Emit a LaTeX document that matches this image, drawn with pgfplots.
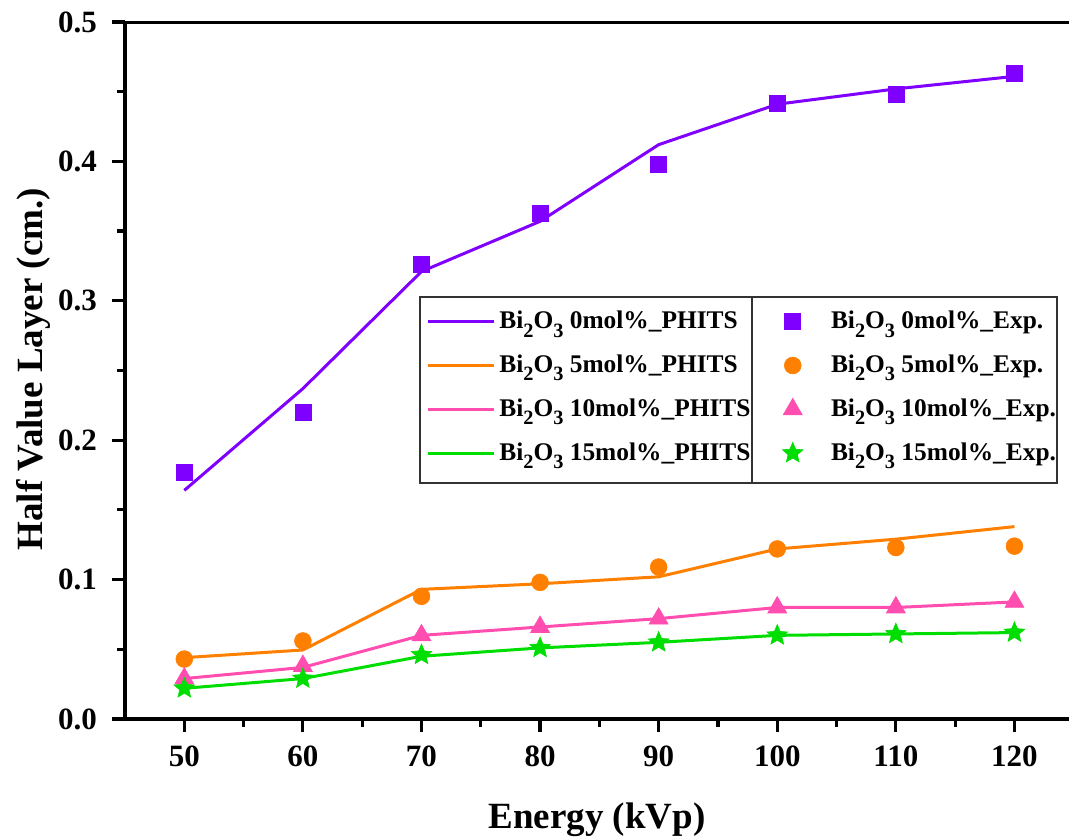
\documentclass[border=0pt]{standalone}
\usepackage{fontspec}
\setmainfont{Liberation Serif}
\usepackage{pgfplots}
\pgfplotsset{compat=1.18}
\definecolor{cpur}{HTML}{8000FF}
\definecolor{cora}{HTML}{FF8000}
\definecolor{cpink}{HTML}{FF4DB0}
\definecolor{cgreen}{HTML}{00DD00}
\newcommand\sbs[1]{\raisebox{-0.32em}{\scalebox{0.8}{#1}}}
\newcommand\bio{Bi\sbs{2}O\sbs{3}}
\pgfdeclareplotmark{fstar}{%
  \pgfpathmoveto{\pgfpointpolar{90}{\pgfplotmarksize}}%
  \pgfpathlineto{\pgfpointpolar{126}{0.45\pgfplotmarksize}}%
  \pgfpathlineto{\pgfpointpolar{162}{\pgfplotmarksize}}%
  \pgfpathlineto{\pgfpointpolar{198}{0.45\pgfplotmarksize}}%
  \pgfpathlineto{\pgfpointpolar{234}{\pgfplotmarksize}}%
  \pgfpathlineto{\pgfpointpolar{270}{0.45\pgfplotmarksize}}%
  \pgfpathlineto{\pgfpointpolar{306}{\pgfplotmarksize}}%
  \pgfpathlineto{\pgfpointpolar{342}{0.45\pgfplotmarksize}}%
  \pgfpathlineto{\pgfpointpolar{18}{\pgfplotmarksize}}%
  \pgfpathlineto{\pgfpointpolar{54}{0.45\pgfplotmarksize}}%
  \pgfpathclose
  \pgfusepathqfillstroke}
\begin{document}
\begin{tikzpicture}
\begin{axis}[
  name=ax,
  scale only axis, width=472pt, height=348.5pt,
  xmin=45, xmax=124.6, ymin=0, ymax=0.5,
  axis x line*=bottom, axis y line*=left,
  axis line style={line width=1.6pt},
  xtick={50,60,70,80,90,100,110,120},
  ytick={0,0.1,0.2,0.3,0.4,0.5},
  minor x tick num=1, minor y tick num=1,
  tick align=outside,
  major tick length=6.5pt, minor tick length=4pt,
  every tick/.style={black, line width=1.6pt},
  /pgf/number format/assume math mode=true,
  yticklabel style={/pgf/number format/fixed, /pgf/number format/fixed zerofill, /pgf/number format/precision=1, xshift=-4pt},
  xticklabel style={yshift=-3.5pt},
  ticklabel style={font=\fontsize{15.5}{18}\selectfont\bfseries},
  xlabel={Energy (kVp)},
  ylabel={Half Value Layer (cm.)},
  xlabel style={font=\fontsize{18.5}{22}\selectfont\bfseries, at={(rel axis cs:0.5,0)}, anchor=base, yshift=-55pt},
  ylabel style={font=\fontsize{18.5}{22}\selectfont\bfseries, at={(rel axis cs:-0.0879,0.502)}, anchor=base, rotate=0},
  legend columns=2,
  legend cell align=left,
  legend style={draw=none, fill=none, at={(rel axis cs:0.3125,0.6055)}, anchor=north west, yshift=-2pt,
    font=\fontsize{12.7}{15}\selectfont\bfseries, row sep=7.6pt, inner sep=3pt,
    /tikz/column 2/.style={column sep=14pt}, /tikz/column 3/.style={column sep=12pt}},
  legend image code/.code={\draw[mark repeat=2, mark phase=2, #1] plot coordinates {(0cm,0cm) (0.58cm,0cm) (1.16cm,0cm)};},
]
\draw[line width=0.8pt, black!80, fill=white] (rel axis cs:0.3125,0.6055) rectangle (rel axis cs:0.6642,0.3386);
\draw[line width=0.8pt, black!80, fill=white] (rel axis cs:0.6642,0.6055) rectangle (rel axis cs:0.987,0.3386);

\addplot[cpur, line width=1.5pt, no marks] coordinates {(50,0.164)(60,0.237)(70,0.321)(80,0.357)(90,0.412)(100,0.441)(110,0.452)(120,0.461)};
\addlegendentry{\bio{} 0mol\%\_PHITS}
\addplot[cpur, only marks, mark=square*, mark size=4pt, mark options={line width=0.3pt}] coordinates {(50,0.177)(60,0.220)(70,0.326)(80,0.363)(90,0.398)(100,0.442)(110,0.448)(120,0.463)};
\addlegendentry{\bio{} 0mol\%\_Exp.}

\addplot[cora, line width=1.5pt, no marks] coordinates {(50,0.044)(60,0.0495)(70,0.093)(80,0.097)(90,0.102)(100,0.122)(110,0.129)(120,0.138)};
\addlegendentry{\bio{} 5mol\%\_PHITS}
\addplot[cora, only marks, mark=*, mark size=4.2pt, mark options={line width=0.3pt}] coordinates {(50,0.043)(60,0.056)(70,0.088)(80,0.098)(90,0.109)(100,0.122)(110,0.123)(120,0.124)};
\addlegendentry{\bio{} 5mol\%\_Exp.}

\addplot[cpink, line width=1.5pt, no marks] coordinates {(50,0.029)(60,0.037)(70,0.060)(80,0.066)(90,0.072)(100,0.080)(110,0.080)(120,0.084)};
\addlegendentry{\bio{} 10mol\%\_PHITS}
\addplot[cpink, only marks, mark=triangle*, mark size=5.5pt, mark options={line width=0.3pt}] coordinates {(50,0.029)(60,0.038)(70,0.060)(80,0.066)(90,0.072)(100,0.080)(110,0.080)(120,0.084)};
\addlegendentry{\bio{} 10mol\%\_Exp.}

\addplot[cgreen, line width=1.5pt, no marks] coordinates {(50,0.022)(60,0.029)(70,0.045)(80,0.051)(90,0.055)(100,0.060)(110,0.061)(120,0.062)};
\addlegendentry{\bio{} 15mol\%\_PHITS}
\addplot[cgreen, only marks, mark=fstar, mark size=5.4pt, mark options={line width=0.3pt}] coordinates {(50,0.022)(60,0.029)(70,0.046)(80,0.051)(90,0.055)(100,0.060)(110,0.061)(120,0.062)};
\addlegendentry{\bio{} 15mol\%\_Exp.}

\draw[line width=1.6pt] (rel axis cs:0,1) -- (rel axis cs:1,1);
\end{axis}
\pgfresetboundingbox
\path[use as bounding box] ([xshift=-62.5pt,yshift=-59.5pt]ax.south west) rectangle ([yshift=11pt]ax.north east);
\end{tikzpicture}
\end{document}
